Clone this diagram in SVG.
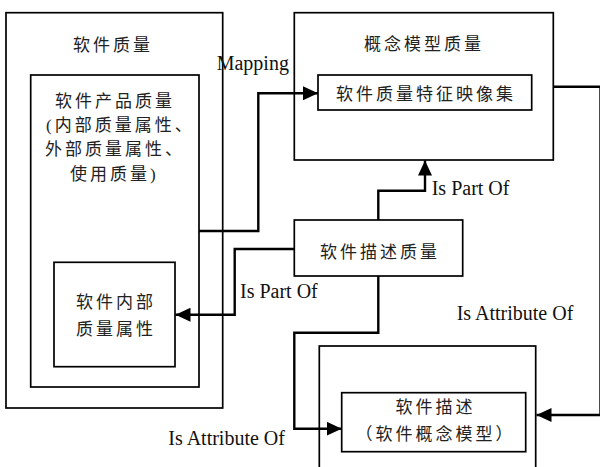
<svg xmlns="http://www.w3.org/2000/svg" width="600" height="467" viewBox="0 0 600 467">
<style>
.box{fill:none;stroke:#000;stroke-width:1.7}
.con{fill:none;stroke:#000;stroke-width:2.4}
.zh{font-family:"Liberation Serif","Noto Sans CJK SC",serif;font-size:17px;letter-spacing:3px;fill:#222}
.en{font-family:"Liberation Serif",serif;font-size:20px;fill:#111}
</style>
<defs>
<marker id="arr" markerUnits="userSpaceOnUse" markerWidth="16" markerHeight="14" refX="15" refY="7" orient="auto">
<path d="M0,0 L15,7 L0,14 z" fill="#000"/>
</marker>
</defs>
<rect width="600" height="467" fill="#fff"/>
<g id="software-quality">
<rect class="box" x="6" y="12.7" width="216.7" height="395.3"/>
<text class="zh" x="113" y="51" text-anchor="middle">软件质量</text>
</g>
<g id="product-quality">
<rect class="box" x="30.7" y="75" width="168.3" height="312"/>
<text class="zh" x="55" y="107">软件产品质量</text>
<text class="zh" x="46" y="131">(内部质量属性、</text>
<text class="zh" x="45" y="155">外部质量属性、</text>
<text class="zh" x="70" y="180">使用质量)</text>
</g>
<g id="internal-attr">
<rect class="box" x="54" y="262.3" width="121" height="104.4"/>
<text class="zh" x="116" y="308" text-anchor="middle">软件内部</text>
<text class="zh" x="116" y="335" text-anchor="middle">质量属性</text>
</g>
<g id="model-quality">
<rect class="box" x="294.3" y="12.7" width="259" height="147.3"/>
<text class="zh" x="424" y="50" text-anchor="middle">概念模型质量</text>
</g>
<g id="feature-map">
<rect class="box" x="318" y="75" width="213.7" height="35"/>
<text class="zh" x="426" y="99.5" text-anchor="middle">软件质量特征映像集</text>
</g>
<g id="desc-quality">
<rect class="box" x="294.3" y="220" width="168.4" height="56"/>
<text class="zh" x="380" y="258" text-anchor="middle">软件描述质量</text>
</g>
<g id="desc-outer">
<rect class="box" x="319.3" y="346" width="216.4" height="140"/>
</g>
<g id="desc">
<rect class="box" x="341.7" y="392.7" width="184" height="59"/>
<text class="zh" x="435.5" y="413" text-anchor="middle">软件描述</text>
<text class="zh" x="435.5" y="440" text-anchor="middle">（软件概念模型）</text>
</g>
<g id="connectors">
<path class="con" d="M199,231 H258.3 V93.3 H318" marker-end="url(#arr)"/>
<path class="con" d="M378.3,220 V190.7 H425 V160.5" marker-end="url(#arr)"/>
<path class="con" d="M294.3,249 H234.7 V314.7 H175.5" marker-end="url(#arr)"/>
<path class="con" d="M378.3,276 V332.7 H294.3 V428.7 H341.7" marker-end="url(#arr)"/>
<path class="con" d="M553.3,86.7 H600.5 V415 H536.5" marker-end="url(#arr)"/>
</g>
<g id="labels">
<text class="en" x="216.7" y="70">Mapping</text>
<text class="en" x="431.7" y="195">Is Part Of</text>
<text class="en" x="240" y="298.3">Is Part Of</text>
<text class="en" x="456.7" y="320">Is Attribute Of</text>
<text class="en" x="168.3" y="445">Is Attribute Of</text>
</g>
</svg>
